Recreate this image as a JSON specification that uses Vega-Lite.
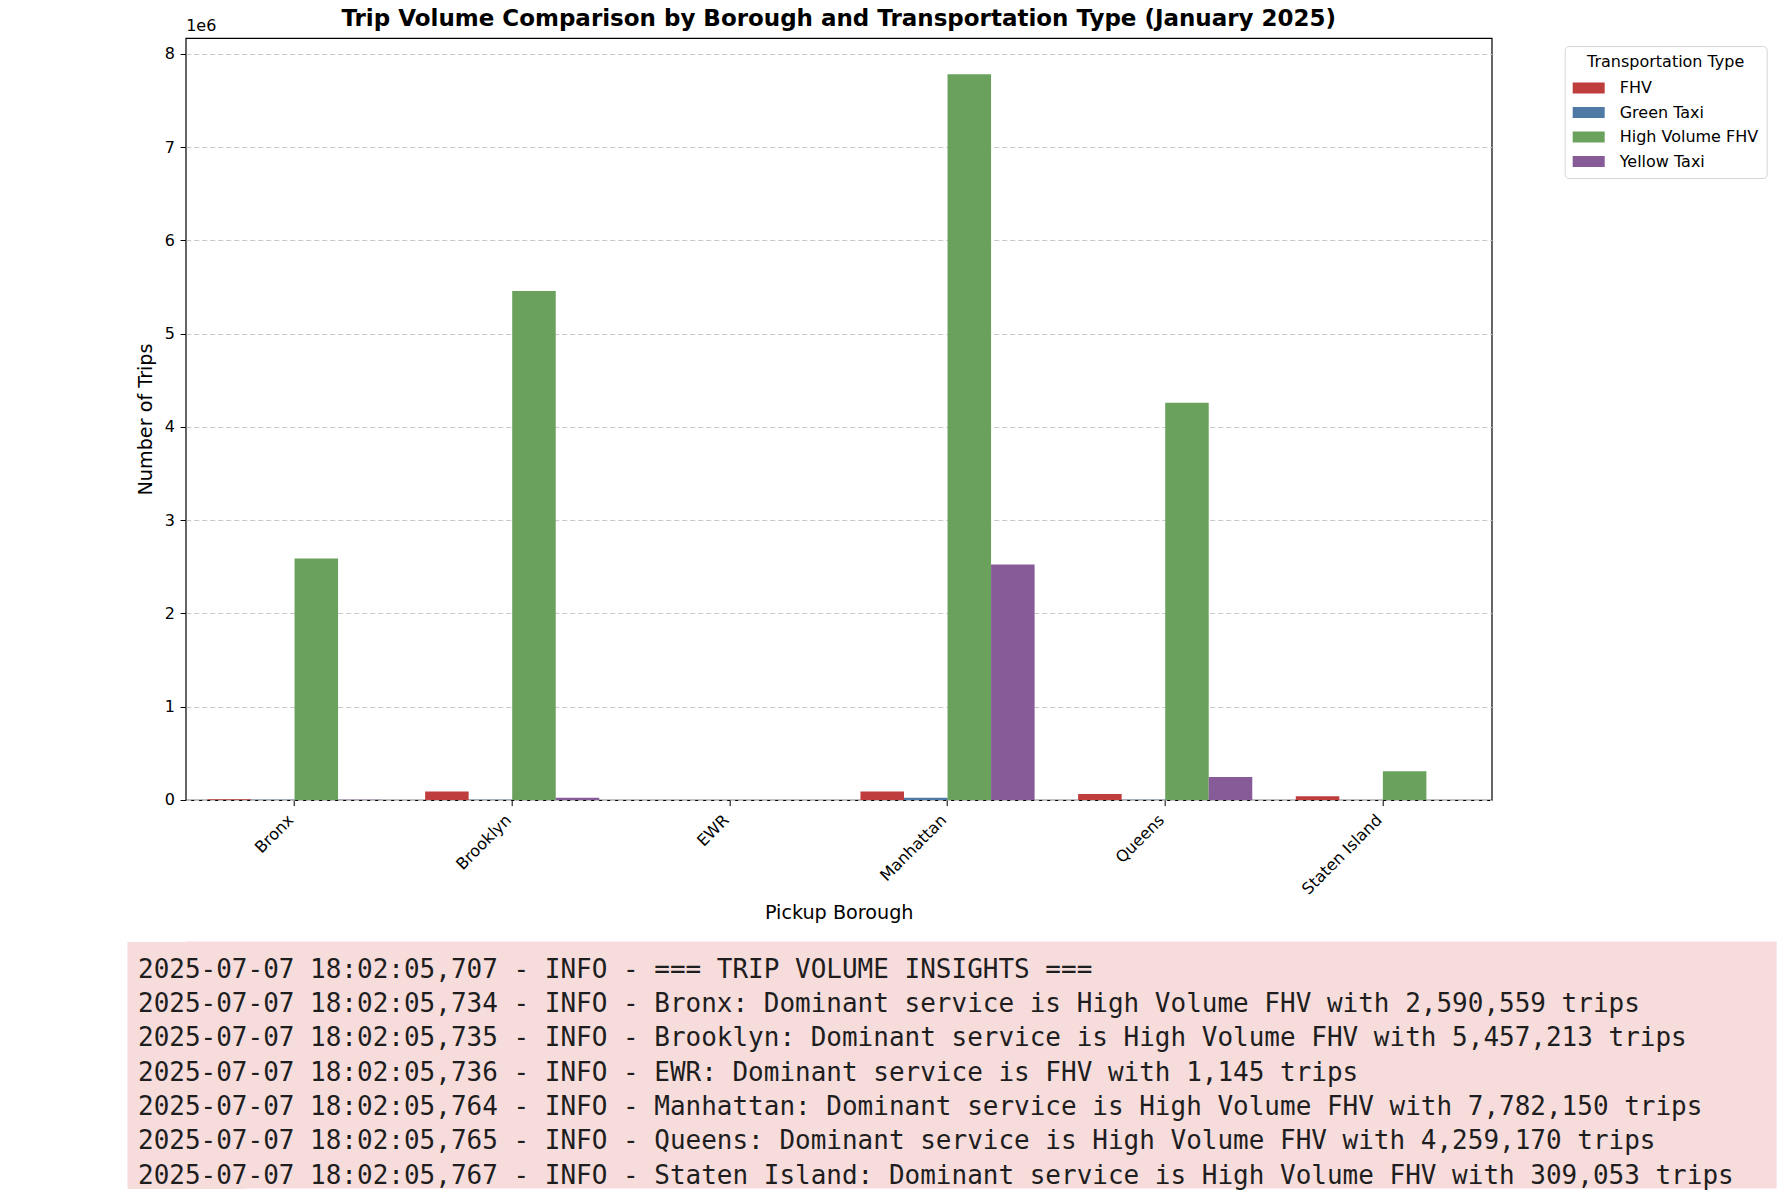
{
  "$schema": "https://vega.github.io/schema/vega-lite/v6.json",
  "background": "white",
  "padding": {"left": 135.7, "top": 7, "right": 7, "bottom": 10},
  "config": {
    "font": "DejaVu Sans",
    "axis": {"labelColor": "#000", "titleColor": "#000", "tickColor": "#000", "domainColor": "#000"},
    "legend": {"labelColor": "#000", "titleColor": "#000"}
  },
  "datasets": {
    "trips": [
      {"borough": "Bronx", "type": "FHV", "trips": 9000},
      {"borough": "Bronx", "type": "Green Taxi", "trips": 1500},
      {"borough": "Bronx", "type": "High Volume FHV", "trips": 2590559},
      {"borough": "Bronx", "type": "Yellow Taxi", "trips": 2500},
      {"borough": "Brooklyn", "type": "FHV", "trips": 90000},
      {"borough": "Brooklyn", "type": "Green Taxi", "trips": 2500},
      {"borough": "Brooklyn", "type": "High Volume FHV", "trips": 5457213},
      {"borough": "Brooklyn", "type": "Yellow Taxi", "trips": 25000},
      {"borough": "EWR", "type": "FHV", "trips": 1145},
      {"borough": "EWR", "type": "Green Taxi", "trips": 5},
      {"borough": "EWR", "type": "High Volume FHV", "trips": 0},
      {"borough": "EWR", "type": "Yellow Taxi", "trips": 600},
      {"borough": "Manhattan", "type": "FHV", "trips": 90000},
      {"borough": "Manhattan", "type": "Green Taxi", "trips": 25000},
      {"borough": "Manhattan", "type": "High Volume FHV", "trips": 7782150},
      {"borough": "Manhattan", "type": "Yellow Taxi", "trips": 2525000},
      {"borough": "Queens", "type": "FHV", "trips": 64000},
      {"borough": "Queens", "type": "Green Taxi", "trips": 1500},
      {"borough": "Queens", "type": "High Volume FHV", "trips": 4259170},
      {"borough": "Queens", "type": "Yellow Taxi", "trips": 246000},
      {"borough": "Staten Island", "type": "FHV", "trips": 39000},
      {"borough": "Staten Island", "type": "Green Taxi", "trips": 50},
      {"borough": "Staten Island", "type": "High Volume FHV", "trips": 309053},
      {"borough": "Staten Island", "type": "Yellow Taxi", "trips": 100}
    ],
    "log": [
      {"line": 1, "text": "2025-07-07 18:02:05,707 - INFO - === TRIP VOLUME INSIGHTS ==="},
      {"line": 2, "text": "2025-07-07 18:02:05,734 - INFO - Bronx: Dominant service is High Volume FHV with 2,590,559 trips"},
      {"line": 3, "text": "2025-07-07 18:02:05,735 - INFO - Brooklyn: Dominant service is High Volume FHV with 5,457,213 trips"},
      {"line": 4, "text": "2025-07-07 18:02:05,736 - INFO - EWR: Dominant service is FHV with 1,145 trips"},
      {"line": 5, "text": "2025-07-07 18:02:05,764 - INFO - Manhattan: Dominant service is High Volume FHV with 7,782,150 trips"},
      {"line": 6, "text": "2025-07-07 18:02:05,765 - INFO - Queens: Dominant service is High Volume FHV with 4,259,170 trips"},
      {"line": 7, "text": "2025-07-07 18:02:05,767 - INFO - Staten Island: Dominant service is High Volume FHV with 309,053 trips"}
    ]
  },
  "vconcat": [
    {
      "width": 1306,
      "height": 762,
      "view": {"stroke": "#000", "strokeWidth": 1.2},
      "title": {"text": "Trip Volume Comparison by Borough and Transportation Type (January 2025)", "fontSize": 23, "fontWeight": "bold", "anchor": "middle", "offset": -14, "color": "#000"},
      "data": {"name": "trips"},
      "layer": [
        {
          "mark": {"type": "bar"},
          "encoding": {
            "x": {"field": "borough", "type": "nominal", "sort": null,
              "scale": {"paddingInner": 0, "paddingOuter": 0},
              "axis": {"title": "Pickup Borough", "titleFontSize": 19.2, "titleFontWeight": "normal", "titlePadding": 6,
                "labelAngle": -45, "labelAlign": "right", "labelBaseline": "alphabetic", "labelFontSize": 16,
                "tickSize": 5.6, "labelPadding": 15, "domain": false, "grid": false}},
            "xOffset": {"field": "type", "type": "nominal", "scale": {"paddingInner": 0, "paddingOuter": 0.5}},
            "y": {"field": "trips", "type": "quantitative", "stack": null,
              "scale": {"domain": [0, 8171257.5], "nice": false, "zero": true},
              "axis": {"title": "Number of Trips", "titleFontSize": 19.2, "titleFontWeight": "normal", "titlePadding": 9,
                "values": [0, 1000000, 2000000, 3000000, 4000000, 5000000, 6000000, 7000000, 8000000],
                "labelExpr": "format(datum.value / 1000000, 'd')", "labelFontSize": 16,
                "tickSize": 5.6, "labelPadding": 5.6, "domain": false,
                "grid": true, "gridDash": [5, 3], "gridColor": "#c8c8c8", "gridWidth": 1}},
            "color": {"field": "type", "type": "nominal",
              "scale": {"domain": ["FHV", "Green Taxi", "High Volume FHV", "Yellow Taxi"], "range": ["#c03d3e", "#4f7aa6", "#6aa25d", "#875b98"]},
              "legend": {"title": "Transportation Type", "orient": "none", "legendX": 1379, "legendY": 8,
                "titleFontSize": 16, "titleFontWeight": "normal", "titleAnchor": "middle", "titlePadding": 2,
                "labelFontSize": 16, "labelOffset": 15,
                "symbolType": "M-1,-0.34H1V0.34H-1Z", "symbolSize": 1024, "symbolStrokeWidth": 0, "symbolOpacity": 1,
                "rowPadding": 0.5, "padding": 8, "strokeColor": "#d6d6d6", "fillColor": "#ffffff", "cornerRadius": 4}}
          }
        },
        {
          "mark": {"type": "bar", "opacity": 0},
          "encoding": {
            "x": {"field": "borough", "type": "nominal", "sort": null},
            "y": {"field": "trips", "type": "quantitative", "stack": null,
              "axis": {"orient": "left", "title": "1e6", "titleAngle": 0, "titleAlign": "left", "titleBaseline": "alphabetic",
                "titleX": 0, "titleY": -8, "titleFontSize": 16, "titleFontWeight": "normal",
                "labels": false, "ticks": false, "domain": false, "grid": false}}
          }
        }
      ],
      "resolve": {"axis": {"y": "independent"}}
    },
    {
      "width": 1591,
      "height": 247,
      "view": {"fill": "#f7dcdc", "stroke": null},
      "data": {"name": "log"},
      "mark": {"type": "text", "font": "DejaVu Sans Mono", "fontSize": 26, "align": "left", "baseline": "alphabetic", "dx": -47.7, "color": "#1e1e1e"},
      "encoding": {
        "x": {"value": 0},
        "y": {"field": "line", "type": "quantitative",
          "scale": {"domain": [-0.06, 7.14], "reverse": true, "nice": false, "zero": false},
          "axis": {"orient": "left", "labels": false, "ticks": false, "grid": false, "title": null,
            "domain": true, "domainColor": "#f7dcdc", "domainWidth": 117.4, "domainCap": "butt", "zindex": 0}},
        "text": {"field": "text"}
      }
    }
  ],
  "spacing": 18.5
}
